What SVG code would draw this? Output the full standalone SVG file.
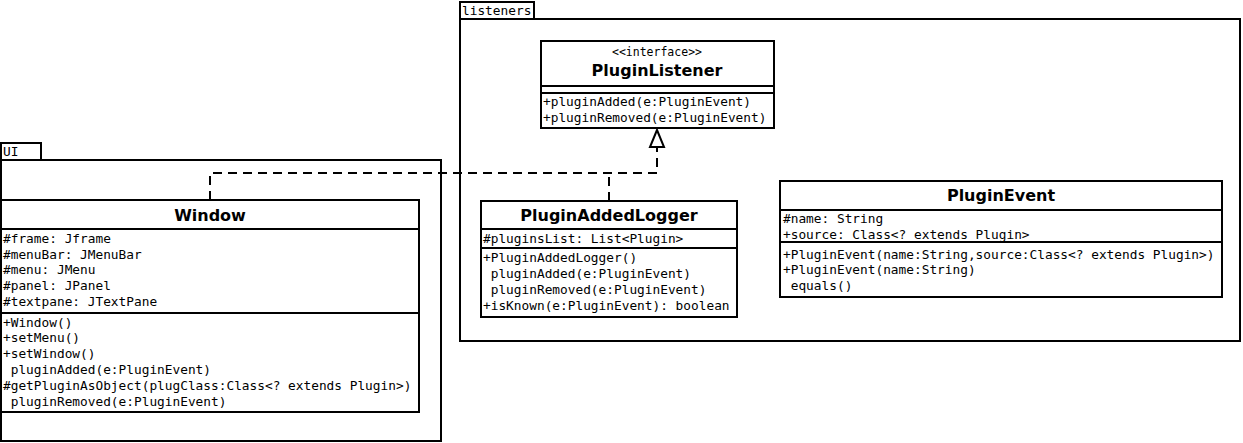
<svg xmlns="http://www.w3.org/2000/svg" width="1243" height="443" viewBox="0 0 1243 443">
<style>
.box{fill:#fff;stroke:#000;stroke-width:2}
.ln{stroke:#000;stroke-width:2;fill:none}
.m{font-family:"DejaVu Sans Mono",monospace;font-size:12.8px;fill:#000}
.t{font-family:"DejaVu Sans",sans-serif;font-weight:bold;font-size:16px;fill:#000;text-anchor:middle}
.s{font-family:"DejaVu Sans Mono",monospace;font-size:11.5px;fill:#000;text-anchor:middle}
.dash{stroke:#000;stroke-width:2;fill:none;stroke-dasharray:9 6}
</style>
<rect width="1243" height="443" fill="#fff"/>
<g id="pkg-ui">
<rect class="box" x="1" y="143" width="40" height="17"/>
<rect class="box" x="1" y="160" width="440" height="281"/>
<text class="m" x="3" y="156">UI</text>
</g>
<g id="pkg-listeners">
<rect class="box" x="460" y="2" width="74" height="17"/>
<rect class="box" x="460" y="19" width="780" height="322"/>
<text class="m" x="462" y="15">listeners</text>
</g>
<g id="connectors">
<path class="dash" d="M210,200 V173 H657 V147"/>
<path class="dash" d="M609,201 V173"/>
<polygon points="657,130 650,147 664,147" fill="#fff" stroke="#000" stroke-width="2"/>
</g>
<g id="Window">
<rect class="box" x="1" y="200" width="418" height="212"/>
<line class="ln" x1="1" y1="229" x2="419" y2="229"/>
<line class="ln" x1="1" y1="313" x2="419" y2="313"/>
<text class="t" x="210" y="221">Window</text>
<text class="m" x="3" y="243">#frame: Jframe</text>
<text class="m" x="3" y="259">#menuBar: JMenuBar</text>
<text class="m" x="3" y="274">#menu: JMenu</text>
<text class="m" x="3" y="290">#panel: JPanel</text>
<text class="m" x="3" y="306">#textpane: JTextPane</text>
<text class="m" x="3" y="327">+Window()</text>
<text class="m" x="3" y="342">+setMenu()</text>
<text class="m" x="3" y="358">+setWindow()</text>
<text class="m" x="3" y="374" xml:space="preserve"> pluginAdded(e:PluginEvent)</text>
<text class="m" x="3" y="390">#getPluginAsObject(plugClass:Class&lt;? extends Plugin&gt;)</text>
<text class="m" x="3" y="406" xml:space="preserve"> pluginRemoved(e:PluginEvent)</text>
</g>
<g id="PluginListener">
<rect class="box" x="541" y="41" width="233" height="87"/>
<line class="ln" x1="541" y1="86" x2="774" y2="86"/>
<line class="ln" x1="541" y1="93" x2="774" y2="93"/>
<text class="s" x="657" y="56">&lt;&lt;interface&gt;&gt;</text>
<text class="t" x="657" y="76">PluginListener</text>
<text class="m" x="543" y="106">+pluginAdded(e:PluginEvent)</text>
<text class="m" x="543" y="122">+pluginRemoved(e:PluginEvent)</text>
</g>
<g id="PluginAddedLogger">
<rect class="box" x="481" y="201" width="256" height="116"/>
<line class="ln" x1="481" y1="229" x2="737" y2="229"/>
<line class="ln" x1="481" y1="248" x2="737" y2="248"/>
<text class="t" x="609" y="221">PluginAddedLogger</text>
<text class="m" x="483" y="243">#pluginsList: List&lt;Plugin&gt;</text>
<text class="m" x="483" y="262">+PluginAddedLogger()</text>
<text class="m" x="483" y="278" xml:space="preserve"> pluginAdded(e:PluginEvent)</text>
<text class="m" x="483" y="294" xml:space="preserve"> pluginRemoved(e:PluginEvent)</text>
<text class="m" x="483" y="310">+isKnown(e:PluginEvent): boolean</text>
</g>
<g id="PluginEvent">
<rect class="box" x="780" y="181" width="442" height="116"/>
<line class="ln" x1="780" y1="210" x2="1222" y2="210"/>
<line class="ln" x1="780" y1="242" x2="1222" y2="242"/>
<text class="t" x="1001" y="201">PluginEvent</text>
<text class="m" x="783" y="223">#name: String</text>
<text class="m" x="783" y="239">+source: Class&lt;? extends Plugin&gt;</text>
<text class="m" x="783" y="259">+PluginEvent(name:String,source:Class&lt;? extends Plugin&gt;)</text>
<text class="m" x="783" y="274">+PluginEvent(name:String)</text>
<text class="m" x="783" y="290" xml:space="preserve"> equals()</text>
</g>
</svg>
